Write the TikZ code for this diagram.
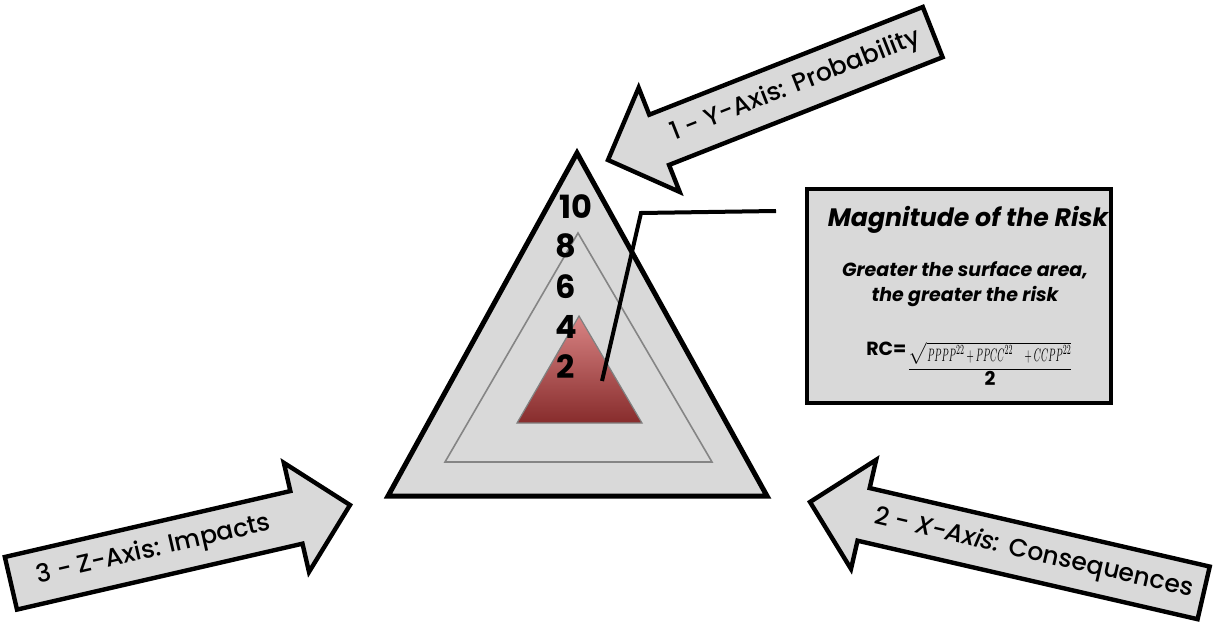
\documentclass[tikz,border=0pt]{standalone}
\usepackage{amsmath}
\usepackage{graphicx}
\usepackage{fontspec}
\setmainfont{Poppins}
\newfontfamily\axisfont{Poppins Medium}
\definecolor{panel}{HTML}{D9D9D9}
\definecolor{midline}{HTML}{858585}
\definecolor{risktop}{HTML}{D98484}
\definecolor{riskbot}{HTML}{872C2C}
\usetikzlibrary{positioning}

\tikzset{
 arrowbox/.style={draw=black,fill=panel,line width=2.2pt},
 axislabel/.style={font=\axisfont\fontsize{12.5}{14}\selectfont,inner sep=0pt},
 level/.style={font=\bfseries\fontsize{16}{18}\selectfont,inner sep=0pt},
 riskbox/.style={draw=black,fill=panel,line width=2pt,minimum width=152pt,minimum height=107pt,inner sep=0pt}
}

% block arrow: name, tip, direction of the tail, length, label, label angle
\newcommand{\axisarrow}[6]{%
 \begin{scope}[shift={#2},rotate=#3]
  \draw[arrowbox] (0,0) -- (55,-56) -- (55,-27) -- (#4,-27) -- (#4,27) -- (55,27) -- (55,56) -- cycle;
  \node[axislabel,rotate=#6] (#1) at ({(55+#4)/2},0) {#5};
 \end{scope}}

\begin{document}
\begin{tikzpicture}[x=0.5pt,y=-0.5pt]
\useasboundingbox (0,0) rectangle (1214,625);

% the three axes
\axisarrow{yaxis}{(608,160)}{21.5}{349}{1 - Y-Axis: Probability}{21.5}
\axisarrow{xaxis}{(810,502)}{-13}{404}{2 - \textit{X-Axis:} Consequences}{-13}
\axisarrow{zaxis}{(350,505)}{193}{348}{3 - Z-Axis: Impacts}{13}

% nested triangles
\draw[line width=2.5pt,fill=panel] (577,153) -- (767,496) -- (388,496) -- cycle;
\draw[midline,line width=0.8pt] (578,233) -- (712,462) -- (445,462) -- cycle;
\draw[draw=gray,line width=0.6pt,top color=risktop,bottom color=riskbot] (579,316) -- (642,423) -- (517,423) -- cycle;

% scale
\node[level] (l10) at (576,207) {10};
\node[level] (l8) at (566,246) {8};
\node[level] (l6) at (566,287) {6};
\node[level] (l4) at (566,327) {4};
\node[level] (l2) at (566,367) {2};

% magnitude box
\node[riskbox] (risk) at (959,296) {};
\node[font=\bfseries\itshape\fontsize{12.6}{15}\selectfont] (title) at (968,220) {Magnitude of the Risk};
\node[font=\bfseries\itshape\fontsize{9.5}{12.5}\selectfont,align=center] (note) at (965,284) {Greater the surface area,\\the greater the risk};
\node[font=\bfseries\fontsize{9.5}{11}\selectfont] (formula) at (970,364)
 {\raisebox{1.7ex}{RC=}$\dfrac{\sqrt{\scalebox{0.5}[1]{$PPPP^{22}+PPCC^{22}\quad+CCPP^{22}$}}}{\textbf{2}}$};

% leader line
\coordinate (pin) at (602,381);
\coordinate (bend) at (641,213);
\coordinate (pinend) at (776,211);
\draw[line width=2pt] (pin) -- (bend) -- (pinend);
\end{tikzpicture}
\end{document}
